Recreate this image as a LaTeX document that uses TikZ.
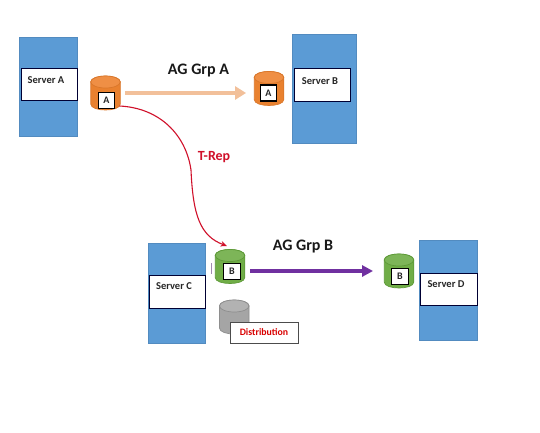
\documentclass[tikz,border=0pt]{standalone}
\usepackage{fontspec}
\setmainfont{Carlito}
\usetikzlibrary{arrows.meta}
\definecolor{srvblue}{HTML}{5B9BD5}
\definecolor{orgbody}{HTML}{E9812F}
\definecolor{orgtop}{HTML}{EF8F45}
\definecolor{orgedge}{HTML}{D9772B}
\definecolor{grnbody}{HTML}{70AD47}
\definecolor{grntop}{HTML}{7DB558}
\definecolor{grnedge}{HTML}{5E9A38}
\definecolor{grybody}{HTML}{A5A5A5}
\definecolor{grytop}{HTML}{B2B2B2}
\definecolor{gryedge}{HTML}{8E8E8E}
\definecolor{peach}{HTML}{F2C09A}
\definecolor{purp}{HTML}{7030A0}
\definecolor{repred}{HTML}{D0102A}
\tikzset{
  srv/.style={draw=srvblue!90!black,fill=srvblue,line width=0.5pt,minimum width=#1,inner sep=0},
  srvlabel/.style={draw=black!80!blue,line width=1pt,fill=white,inner sep=0},
  srvtext/.style={font=\bfseries\fontsize{10.5}{12}\selectfont,text=black!85},
  dblabel/.style={draw=black,line width=1.1pt,fill=white,minimum width=16.5,minimum height=16,inner sep=0,
     font=\bfseries\fontsize{10}{12}\selectfont,text=black!85},
  canframe/.style={minimum width=29.5,minimum height=34,inner sep=0},
  title/.style={font=\bfseries\fontsize{16}{19}\selectfont,text=black!90},
}
% name, x, y, body, top, edge
\newcommand\dbcan[6]{%
  \node[canframe] (#1) at (#2,#3) {};
  \begin{scope}[shift={(#2,#3)}]
    \draw[fill=#4,draw=#6,line width=0.7pt] (-14.75,-11) -- (-14.75,11) .. controls (-14.75,19) and (14.75,19) .. (14.75,11) -- (14.75,-11) .. controls (14.75,-19) and (-14.75,-19) .. (-14.75,-11) -- cycle;
    \draw[fill=#5,draw=#6,line width=0.7pt] (0,-11) ellipse [x radius=14.75pt,y radius=6pt];
  \end{scope}}
\begin{document}
\begin{tikzpicture}[x=1pt,y=-1pt]
\useasboundingbox[fill=white] (0,0) rectangle (540,433);
% servers
\node[srv=57.5,minimum height=99] (sa) at (48.25,86.5) {};
\node[srv=64,minimum height=109] (sb) at (324,88.5) {};
\node[srv=57,minimum height=100] (sc) at (176.5,293) {};
\node[srv=58,minimum height=100] (sd) at (448,290) {};
\node[srvlabel,minimum width=56,minimum height=32] (la) at (49,85) {};
\node[srvlabel,minimum width=56.5,minimum height=33] (lb) at (322.25,85.5) {};
\node[srvlabel,minimum width=56,minimum height=32.5] (lc) at (177,291.75) {};
\node[srvlabel,minimum width=57,minimum height=32] (ld) at (448.5,289) {};
\node[srvtext] (ta) at (46,80) {Server A};
\node[srvtext] (tb) at (320,81) {Server B};
\node[srvtext] (tc) at (174,286.5) {Server C};
\node[srvtext] (td) at (446,284) {Server D};
% databases
\dbcan{ca}{105.5}{93}{orgbody}{orgtop}{orgedge}
\node[dblabel] (da) at (106.5,100.5) {A};
\dbcan{cb}{269}{88.5}{orgbody}{orgtop}{orgedge}
\node[dblabel] (db) at (268.5,93) {A};
\dbcan{cc}{230}{266.5}{grnbody}{grntop}{grnedge}
\node[dblabel] (dc) at (232,271.5) {B};
\dbcan{cd}{399}{271}{grnbody}{grntop}{grnedge}
\node[dblabel] (dd) at (400,276.5) {B};
\dbcan{ce}{234.25}{317}{grybody}{grytop}{gryedge}
\node[draw=black!70,line width=0.9pt,fill=white,minimum width=68,minimum height=21,inner sep=0,
  font=\bfseries\fontsize{9.8}{12}\selectfont,text=red!85!black] (dist) at (264,332.5) {Distribution};
% thin tick
\draw[draw=purp!50!gray!70,line width=1pt] (211,263) -- (211,274);
% connectors
\draw[peach,line width=4.4pt,-{Triangle[length=11pt,width=13pt]}] ([xshift=5pt]ca.east) -- ([xshift=-8pt,yshift=-4.5pt]cb.west);
\draw[purp,line width=3.4pt,-{Triangle[length=11pt,width=11pt]}] ([xshift=5pt,yshift=-4.5pt]cc.east) -- ([xshift=-11pt]cd.west);
\draw[repred,line width=1.1pt,-{Stealth[length=6.5pt,width=5.5pt]}] ([shift={(14,13)}]ca.center) .. controls (160,108) and (186,135) .. (191,170) .. controls (193,215) and (200,236) .. ([shift={(-3,-20.5)}]cc.center);
% titles
\node[title] (ga) at (198.5,70.5) {AG Grp A};
\node[title] (gb) at (303,246.5) {AG Grp B};
\node[font=\bfseries\fontsize{14}{16}\selectfont,text=repred] (tr) at (214,157) {T-Rep};
\end{tikzpicture}
\end{document}
